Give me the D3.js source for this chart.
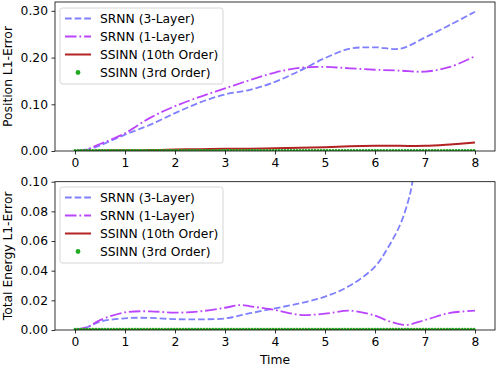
<!DOCTYPE html>
<html>
<head>
<meta charset="utf-8">
<script src="https://cdn.jsdelivr.net/npm/d3@7"></script>
<style>
  body { margin: 0; background: #fff; }
  text { font-family: "DejaVu Sans", sans-serif; }
</style>
</head>
<body>
<div id="chart"></div>
<script>
// ---- data ----
var timeTicks = [0, 1, 2, 3, 4, 5, 6, 7, 8];
var posTicks = [0, 0.1, 0.2, 0.3];
var enTicks = [0, 0.02, 0.04, 0.06, 0.08, 0.10];
var seriesNames = ["SRNN (3-Layer)", "SRNN (1-Layer)", "SSINN (10th Order)", "SSINN (3rd Order)"];

var timePos = [0, 0.25, 0.5, 1, 1.5, 2, 2.5, 3, 3.5, 4, 4.5, 5, 5.5, 6, 6.5, 7, 7.5, 8];
var srnn3Pos = [0, 0.003, 0.012, 0.035, 0.056, 0.081, 0.104, 0.121, 0.131, 0.148, 0.172, 0.199, 0.219, 0.222, 0.219, 0.243, 0.270, 0.298];
var srnn1Pos = [0, 0.004, 0.015, 0.038, 0.071, 0.096, 0.116, 0.134, 0.152, 0.168, 0.178, 0.180, 0.177, 0.174, 0.172, 0.170, 0.180, 0.203];
var ssinn10Pos = [0, 0.0005, 0.001, 0.0015, 0.002, 0.003, 0.004, 0.005, 0.005, 0.006, 0.007, 0.008, 0.010, 0.011, 0.011, 0.011, 0.014, 0.018];
var timeFlat = [0, 2, 4, 6, 8];
var ssinn3Pos = [0.0012, 0.0012, 0.0013, 0.0013, 0.0014];

var timeEn3 = [0, 0.25, 0.5, 1, 1.5, 2, 2.5, 3, 3.5, 4, 4.5, 5, 5.5, 6, 6.25, 6.5, 6.67, 6.75, 6.85];
var srnn3En = [0, 0.002, 0.0056, 0.0079, 0.0082, 0.0073, 0.0072, 0.0078, 0.0113, 0.0146, 0.018, 0.0225, 0.030, 0.0427, 0.055, 0.0708, 0.0877, 0.100, 0.125];
var timeEn1 = [0, 0.25, 0.5, 1, 1.5, 2, 2.5, 3, 3.3, 3.5, 4, 4.5, 5, 5.5, 6, 6.3, 6.6, 7, 7.5, 8];
var srnn1En = [0, 0.002, 0.0067, 0.0119, 0.0126, 0.0117, 0.0126, 0.015, 0.0168, 0.016, 0.0135, 0.0102, 0.011, 0.013, 0.0097, 0.0057, 0.0034, 0.0067, 0.0115, 0.013];
var ssinn10En = [0.0002, 0.0002, 0.0002, 0.0002, 0.0002];
var ssinn3En = [0.0005, 0.0005, 0.0005, 0.0005, 0.0005];

var colors = ["#8080ff", "#bb44ff", "#b22222", "#22aa22"];

var W = 498, H = 366, FS = 12.3;
var svg = d3.select("#chart").append("svg").attr("width", W).attr("height", H);

var x = d3.scaleLinear().domain([-0.4, 8.4]).range([55, 495]);

function zip(t, v) { return t.map(function(d, i) { return [d, v[i]]; }); }

function panel(id, top, bottom, ymax, yTicks, yFmt, ylabel, series, legendTop) {
  var y = d3.scaleLinear().domain([0, ymax]).range([bottom, top]);
  var g = svg.append("g");

  svg.append("clipPath").attr("id", id)
    .append("rect").attr("x", 55).attr("y", top).attr("width", 440).attr("height", bottom - top);

  var line = d3.line()
    .x(function(d) { return x(d[0]); })
    .y(function(d) { return y(d[1]); })
    .curve(d3.curveCatmullRom.alpha(0.5));

  var plot = g.append("g").attr("clip-path", "url(#" + id + ")");
  series.forEach(function(s) {
    plot.append("path")
      .attr("d", line(s.data))
      .attr("fill", "none")
      .attr("stroke", s.color)
      .attr("stroke-width", s.width)
      .attr("stroke-linecap", s.cap || "butt")
      .attr("stroke-dasharray", s.dash);
  });

  // axes
  var ax = g.append("g").attr("transform", "translate(0," + bottom + ")")
    .call(d3.axisBottom(x).tickValues(timeTicks).tickFormat(d3.format("d")).tickSizeOuter(0).tickSize(3.5).tickPadding(3.5));
  var ay = g.append("g").attr("transform", "translate(55,0)")
    .call(d3.axisLeft(y).tickValues(yTicks).tickFormat(yFmt).tickSizeOuter(0).tickSize(3.5).tickPadding(3.5));
  [ax, ay].forEach(function(a) {
    a.select(".domain").remove();
    a.selectAll("text").attr("font-size", FS).attr("fill", "#000").style("font-family", "DejaVu Sans");
    a.selectAll("line").attr("stroke", "#000").attr("stroke-width", 0.8);
  });

  g.append("rect").attr("x", 55).attr("y", top).attr("width", 440).attr("height", bottom - top)
    .attr("fill", "none").attr("stroke", "#000").attr("stroke-width", 0.8);

  g.append("text")
    .attr("transform", "translate(12," + ((top + bottom) / 2) + ") rotate(-90)")
    .attr("text-anchor", "middle")
    .attr("font-size", FS)
    .text(ylabel);

  // legend
  var lg = g.append("g");
  lg.append("rect").attr("x", 60).attr("y", legendTop).attr("width", 163).attr("height", 76)
    .attr("rx", 2.5).attr("fill", "#fff").attr("fill-opacity", 0.8)
    .attr("stroke", "#cccccc").attr("stroke-width", 0.8);
  series.forEach(function(s, i) {
    var cy = legendTop + 10.5 + i * 18;
    if (s.marker) {
      lg.append("circle").attr("cx", 78).attr("cy", cy).attr("r", 2.4).attr("fill", s.color);
    } else {
      lg.append("line").attr("x1", 65).attr("x2", 91).attr("y1", cy).attr("y2", cy)
        .attr("stroke", s.color).attr("stroke-width", s.width)
        .attr("stroke-dasharray", s.dash);
    }
    lg.append("text").attr("x", 100).attr("y", cy).attr("dy", "0.36em")
      .attr("font-size", FS).text(seriesNames[i]);
  });
}

var dashed = "6.7,2.9";
var dashdot = "11.5,2.9,1.8,2.9";
var dotted = "0,3";

panel("clipTop", 2, 151, 0.319, posTicks, d3.format(".2f"), "Position L1-Error", [
  { data: zip(timePos, srnn3Pos), color: colors[0], width: 1.8, dash: dashed },
  { data: zip(timePos, srnn1Pos), color: colors[1], width: 1.8, dash: dashdot },
  { data: zip(timePos, ssinn10Pos), color: colors[2], width: 2, dash: null },
  { data: zip(timeFlat, ssinn3Pos), color: colors[3], width: 2.8, dash: dotted, cap: "round", marker: true }
], 8);

panel("clipBot", 181.7, 330, 0.10, enTicks, d3.format(".2f"), "Total Energy L1-Error", [
  { data: zip(timeEn3, srnn3En), color: colors[0], width: 1.8, dash: dashed },
  { data: zip(timeEn1, srnn1En), color: colors[1], width: 1.8, dash: dashdot },
  { data: zip(timeFlat, ssinn10En), color: colors[2], width: 2, dash: null },
  { data: zip(timeFlat, ssinn3En), color: colors[3], width: 2.8, dash: dotted, cap: "round", marker: true }
], 187);

svg.append("text").attr("x", 275).attr("y", 364).attr("text-anchor", "middle")
  .attr("font-size", FS).text("Time");
</script>
</body>
</html>
